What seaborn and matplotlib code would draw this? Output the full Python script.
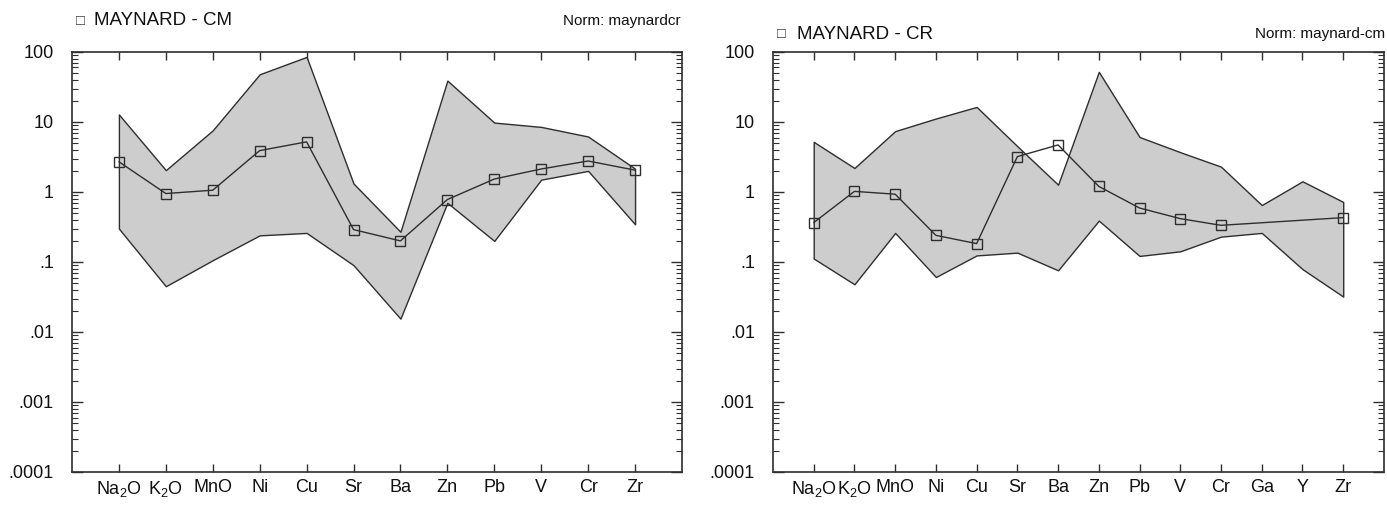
import numpy as np
import pandas as pd
import matplotlib
matplotlib.use("Agg")
import matplotlib.pyplot as plt
import matplotlib.ticker as mticker
import seaborn as sns

# -----------------------------
# Data
# -----------------------------
cm_elements = ["Na$_2$O", "K$_2$O", "MnO", "Ni", "Cu", "Sr", "Ba", "Zn", "Pb", "V", "Cr", "Zr"]
cm_sample = [2.7, 0.95, 1.06, 3.9, 5.2, 0.29, 0.2, 0.78, 1.53, 2.13, 2.77, 2.05]
cm_upper = [12.8, 2.05, 7.6, 48, 85, 1.32, 0.27, 39, 9.8, 8.5, 6.2, 2.15]
cm_lower = [0.30, 0.045, 0.106, 0.24, 0.26, 0.09, 0.0155, 0.70, 0.20, 1.5, 2.0, 0.345]

cr_elements = ["Na$_2$O", "K$_2$O", "MnO", "Ni", "Cu", "Sr", "Ba", "Zn", "Pb", "V", "Cr", "Ga", "Y", "Zr"]
cr_sample = [0.365, 1.02, 0.93, 0.24, 0.183, 3.2, 4.7, 1.2, 0.59, 0.416, 0.334, np.nan, np.nan, 0.43]
cr_upper = [5.2, 2.2, 7.4, 11.2, 16.4, 4.5, 1.27, 52, 6.1, 3.7, 2.3, 0.65, 1.42, 0.72]
cr_lower = [0.112, 0.048, 0.26, 0.061, 0.124, 0.136, 0.076, 0.39, 0.122, 0.142, 0.23, 0.26, 0.079, 0.032]

titles = ["MAYNARD - CM", "MAYNARD - CR"]
norms = ["Norm: maynardcr", "Norm: maynard-cm"]

y_ticks = [0.0001, 0.001, 0.01, 0.1, 1, 10, 100]
y_labels = [".0001", ".001", ".01", ".1", "1", "10", "100"]

# -----------------------------
# Style
# -----------------------------
sns.set_style("ticks")
plt.rcParams["font.family"] = ["Liberation Sans", "DejaVu Sans"]
plt.rcParams["mathtext.fontset"] = "custom"
plt.rcParams["mathtext.rm"] = "Liberation Sans"
plt.rcParams["mathtext.it"] = "Liberation Sans"

ink = "#2e2e2e"
fill_col = "#cdcdcd"

fig = plt.figure(figsize=(13.87, 5.08), dpi=100)
ax_l = fig.add_axes([0.0519, 0.0709, 0.4398, 0.8268])
ax_r = fig.add_axes([0.5573, 0.0709, 0.4405, 0.8268])

panels = [
    (ax_l, cm_elements, cm_sample, cm_upper, cm_lower),
    (ax_r, cr_elements, cr_sample, cr_upper, cr_lower),
]

for ax, elems, sample, upper, lower in panels:
    n = len(elems)
    pos = np.arange(n)

    # shaded range of the reference group
    ax.fill_between(pos, lower, upper, color=fill_col, edgecolor=ink, linewidth=1.0, zorder=1)

    # sample pattern
    df = pd.DataFrame({"pos": pos, "value": sample}).dropna()
    sns.lineplot(data=df, x="pos", y="value", ax=ax, color=ink, linewidth=1.0,
                 marker="s", markersize=6.5, markerfacecolor="none",
                 markeredgecolor=ink, markeredgewidth=1.0, zorder=3)

    ax.set_yscale("log")
    ax.set_ylim(0.0001, 100)
    ax.set_xlim(-1, n)
    ax.yaxis.set_major_locator(mticker.FixedLocator(y_ticks))
    ax.set_yticklabels(y_labels)
    ax.yaxis.set_minor_locator(mticker.LogLocator(base=10, subs=np.arange(2, 10), numticks=20))
    ax.yaxis.set_minor_formatter(mticker.NullFormatter())
    ax.set_xticks(pos)
    ax.set_xticklabels(elems)
    ax.set_xlabel("")
    ax.set_ylabel("")

    ax.tick_params(axis="both", which="both", direction="in", top=True, right=True,
                   colors=ink, labelcolor="#111111", labelsize=13)
    ax.tick_params(axis="x", which="major", length=6, width=1.0, pad=5)
    ax.tick_params(axis="y", which="major", length=8, width=1.0, pad=13)
    ax.tick_params(axis="y", which="minor", length=4, width=0.8)
    ax.tick_params(axis="x", which="minor", top=False, bottom=False)
    for side in ["left", "right", "top", "bottom"]:
        ax.spines[side].set_visible(True)
        ax.spines[side].set_color(ink)
        ax.spines[side].set_linewidth(1.2)

# -----------------------------
# Headers
# -----------------------------
fig.text(0.0550, 0.9587, "\u25a1", fontsize=10.5, color=ink, va="center", ha="left")
fig.text(0.0680, 0.9587, titles[0], fontsize=13.5, color="#111111", va="center", ha="left")
fig.text(0.4910, 0.9587, norms[0], fontsize=11, color="#111111", va="center", ha="right")

fig.text(0.5600, 0.933, "\u25a1", fontsize=10.5, color=ink, va="center", ha="left")
fig.text(0.5745, 0.933, titles[1], fontsize=13.5, color="#111111", va="center", ha="left")
fig.text(0.9985, 0.933, norms[1], fontsize=11, color="#111111", va="center", ha="right")

fig.savefig("out.png", dpi=100, facecolor="white")
